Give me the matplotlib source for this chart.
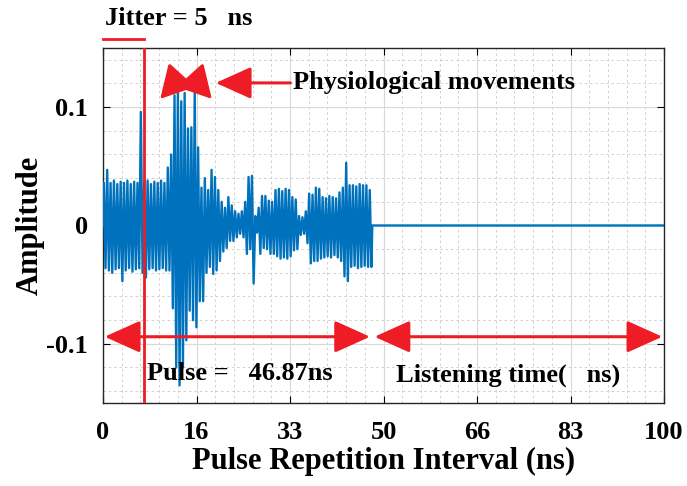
import numpy as np
import matplotlib
matplotlib.use('Agg')
import matplotlib.pyplot as plt
from matplotlib.ticker import MultipleLocator, FixedLocator

plt.rcParams['font.family'] = ['Liberation Serif', 'DejaVu Serif']
plt.rcParams['font.weight'] = 'bold'

# per-cycle upper / lower extremes of the echo (period ~0.6 ns)
cycle_hi = [0.036, 0.047, 0.036, 0.038, 0.035, 0.037, 0.036, 0.038, 0.035, 0.037, 0.036, 0.096,
            0.036, 0.038, 0.035, 0.037, 0.036, 0.038, 0.036, 0.049,
            0.060, 0.110, 0.116, 0.105, 0.112, 0.082, 0.083, 0.114, 0.066, 0.032, 0.040,
            0.030, 0.047, 0.041, 0.030, 0.020, 0.015, 0.024, 0.017, 0.012, 0.010, 0.012,
            0.020, 0.041, 0.042, 0.008, 0.015, 0.025, 0.025, 0.021, 0.020, 0.030,
            0.031, 0.029, 0.031, 0.030, 0.024, 0.022,
            0.008, 0.007, 0.012, 0.027, 0.026, 0.032, 0.031,
            0.024, 0.023, 0.025, 0.024, 0.023, 0.028, 0.032, 0.053,
            0.034, 0.034, 0.033, 0.035, 0.034, 0.034, 0.030]
cycle_lo = [-0.036, -0.038, -0.040, -0.037, -0.036, -0.047, -0.038, -0.036, -0.039, -0.037, -0.036, -0.040,
            -0.044, -0.037, -0.036, -0.038, -0.037, -0.036, -0.038, -0.038,
            -0.070, -0.120, -0.135, -0.120, -0.097, -0.072, -0.080, -0.086, -0.064, -0.064, -0.040,
            -0.035, -0.041, -0.038, -0.030, -0.022, -0.019, -0.013, -0.013, -0.010, -0.007, -0.010,
            -0.024, -0.020, -0.049, -0.006, -0.024, -0.019, -0.020, -0.024, -0.024, -0.026,
            -0.028, -0.027, -0.028, -0.026, -0.021, -0.020,
            -0.008, -0.007, -0.015, -0.032, -0.030, -0.030, -0.028,
            -0.027, -0.026, -0.027, -0.025, -0.027, -0.030, -0.043, -0.047,
            -0.035, -0.034, -0.036, -0.035, -0.034, -0.035, -0.035]
cycle_period = 0.6
pulse_end = 48.0
pri_end = 100.0
jitter_pos = 7.3

x_ticks = [0, 100/6, 200/6, 50, 400/6, 500/6, 100]
x_tick_labels = ['0', '16', '33', '50', '66', '83', '100']
y_ticks = [-0.1, 0, 0.1]
y_tick_labels = ['-0.1', '0', '0.1']

# build the trace: hi then lo inside each cycle, then the flat listening part
t = [0.0]
v = [0.0]
for i in range(len(cycle_hi)):
    t += [i*cycle_period + 0.15, i*cycle_period + 0.45]
    v += [cycle_hi[i], cycle_lo[i]]
t += [pulse_end, pri_end]
v += [0.0, 0.0]

red = '#EE1C25'
blue = '#0072BD'

fig = plt.figure(figsize=(6.87, 4.86), dpi=100)
ax = fig.add_axes([103/687, 1 - 403/486, 561/687, 355/486])

ax.plot(t, v, color=blue, lw=1.7, zorder=3)

ax.set_xlim(0, 100)
ax.set_ylim(-0.15, 0.15)
ax.xaxis.set_major_locator(FixedLocator(x_ticks))
ax.set_xticklabels(x_tick_labels)
ax.xaxis.set_minor_locator(MultipleLocator(100/30))
ax.yaxis.set_major_locator(FixedLocator(y_ticks))
ax.set_yticklabels(y_tick_labels)
ax.yaxis.set_minor_locator(MultipleLocator(0.02))
ax.tick_params(which='both', direction='in', top=True, right=True, labelsize=19)
ax.tick_params(axis='x', pad=13)
ax.tick_params(axis='y', pad=11)
ax.tick_params(which='major', length=5, width=0.8)
ax.tick_params(which='minor', length=0)
ax.grid(which='major', color='#D8D8D8', lw=0.8)
ax.grid(which='minor', color='#D0D0D0', lw=0.7, linestyle=(0, (2.5, 3)))
ax.set_axisbelow(True)
for s in ax.spines.values():
    s.set_color('#262626')
    s.set_linewidth(1.0)

ax.set_xlabel('Pulse Repetition Interval (ns)', fontsize=22, fontweight='bold', labelpad=2)
ax.set_ylabel('Amplitude', fontsize=22, fontweight='bold', labelpad=1)

# jitter marker
ax.axvline(jitter_pos, color=red, lw=2, zorder=4)
ax.plot([0, jitter_pos], [0.158, 0.158], color=red, lw=2, clip_on=False)
ax.text(0.3, 0.175, 'Jitter = 5   ns', fontsize=19, fontweight='bold', va='center', ha='left')

# pulse / listening double arrows
arrow_y = -0.094
ap = dict(arrowstyle='<|-|>,head_length=1.0,head_width=0.45', color=red, lw=2.2,
          mutation_scale=22, shrinkA=0, shrinkB=0)
ax.annotate('', xy=(0.3, arrow_y), xytext=(47.6, arrow_y), arrowprops=ap, zorder=5)
ax.annotate('', xy=(48.4, arrow_y), xytext=(99.7, arrow_y), arrowprops=ap, zorder=5)
ax.text(7.8, -0.125, 'Pulse =   46.87ns', fontsize=19, fontweight='bold', va='center', ha='left')
ax.text(52.3, -0.127, 'Listening time(   ns)', fontsize=19, fontweight='bold', va='center', ha='left')

# physiological movements
cp = dict(arrowstyle='<|-|>,head_length=1.0,head_width=0.55', color=red, lw=2.2,
          mutation_scale=20, shrinkA=0, shrinkB=0, connectionstyle='arc3,rad=0.55')
ax.annotate('', xy=(10.2, 0.107), xytext=(19.4, 0.107), arrowprops=cp, zorder=5)
sp = dict(arrowstyle='-|>,head_length=1.0,head_width=0.45', color=red, lw=2.2,
          mutation_scale=22, shrinkA=0, shrinkB=0)
ax.annotate('', xy=(20.1, 0.1205), xytext=(33.4, 0.1205), arrowprops=sp, zorder=5)
ax.text(33.9, 0.121, 'Physiological movements', fontsize=19, fontweight='bold', va='center', ha='left')

fig.savefig('out.png', dpi=100)
